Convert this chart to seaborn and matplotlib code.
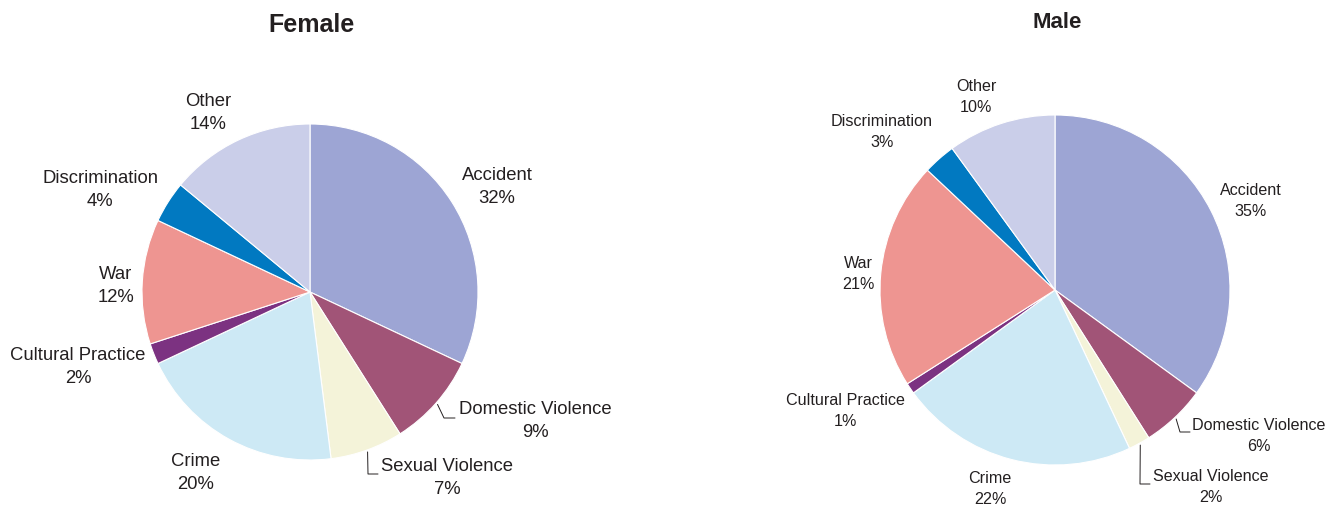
import numpy as np
import matplotlib
matplotlib.use("Agg")
import matplotlib.pyplot as plt
import seaborn as sns

# Causes of disability, share of cases by sex
categories = ["Accident", "Domestic Violence", "Sexual Violence", "Crime",
              "Cultural Practice", "War", "Discrimination", "Other"]
female_pct = [32, 9, 7, 20, 2, 12, 4, 14]
male_pct = [35, 6, 2, 22, 1, 21, 3, 10]

palette = sns.color_palette(["#9DA5D4", "#A15477", "#F4F3D9", "#CDE9F5",
                             "#7C3281", "#EE9591", "#0179C1", "#CACEE9"])

sns.set_theme(style="white")
plt.rcParams["font.family"] = ["Liberation Sans", "DejaVu Sans"]

W, H = 1330, 506
fig = plt.figure(figsize=(W / 100, H / 100), dpi=100)
ax = fig.add_axes([0, 0, 1, 1])
ax.set_xlim(0, W)
ax.set_ylim(0, H)
ax.set_aspect("equal")
ax.axis("off")

TEXT = "#231F20"

# layout for each panel: pie centre/radius (pixels from top-left), title, label anchors
panels = [
    dict(title="Female", values=female_pct, cx=310, cy=293, r=168,
         title_xy=(311, 25), title_size=18, label_size=13.3, spacing=1.42,
         labels={"Accident": (497, 187), "Domestic Violence": (459, 421, "left"),
                 "Sexual Violence": (381, 478, "left"), "Crime": (196, 473),
                 "Cultural Practice": (78, 367), "War": (116, 286),
                 "Discrimination": (100, 190), "Other": (208, 113)},
         leader_bend={"Domestic Violence": (444, 419, 455),
                      "Sexual Violence": (368, 475, 378)}),
    dict(title="Male", values=male_pct, cx=1055, cy=291, r=175,
         title_xy=(1057, 22), title_size=16, label_size=11.6, spacing=1.45,
         labels={"Accident": (1251, 201), "Domestic Violence": (1192, 436, "left"),
                 "Sexual Violence": (1153, 487, "left"), "Crime": (990, 489),
                 "Cultural Practice": (845, 411), "War": (858, 274),
                 "Discrimination": (882, 132), "Other": (976, 97)},
         leader_bend={"Domestic Violence": (1180, 433, 1190),
                      "Sexual Violence": (1140, 485, 1150)}),
]

for p in panels:
    vals = np.array(p["values"], dtype=float)
    cx, cy, r = p["cx"], H - p["cy"], p["r"]
    wedges, _ = ax.pie(vals, colors=palette, startangle=90, counterclock=False,
                       center=(cx, cy), radius=r, frame=True,
                       wedgeprops=dict(edgecolor="white", linewidth=0.8))
    ax.text(p["title_xy"][0], H - p["title_xy"][1], p["title"],
            ha="center", va="center", fontsize=p["title_size"],
            fontweight="bold", color=TEXT)

    for w, cat, v in zip(wedges, categories, vals):
        spec = p["labels"][cat]
        lx, ly = spec[0], spec[1]
        if len(spec) == 3:
            # label beside a leader line, percentage centred under the name
            ax.text(lx, H - ly, f"{cat}\n{int(v)}%", ha="left", va="center",
                    multialignment="center", fontsize=p["label_size"],
                    color=TEXT, linespacing=p["spacing"])
            mid = np.deg2rad((w.theta1 + w.theta2) / 2)
            sx, sy = cx + (r + 2) * np.cos(mid), cy + (r + 2) * np.sin(mid)
            bx, by, ex = p["leader_bend"][cat]
            ax.plot([sx, bx, ex], [sy, H - by, H - by], color=TEXT, lw=0.7)
        else:
            ax.text(lx, H - ly, f"{cat}\n{int(v)}%", ha="center", va="center",
                    multialignment="center", fontsize=p["label_size"],
                    color=TEXT, linespacing=p["spacing"])

ax.set_xlim(0, W)
ax.set_ylim(0, H)
ax.axis("off")
fig.savefig("out.png", dpi=100)
